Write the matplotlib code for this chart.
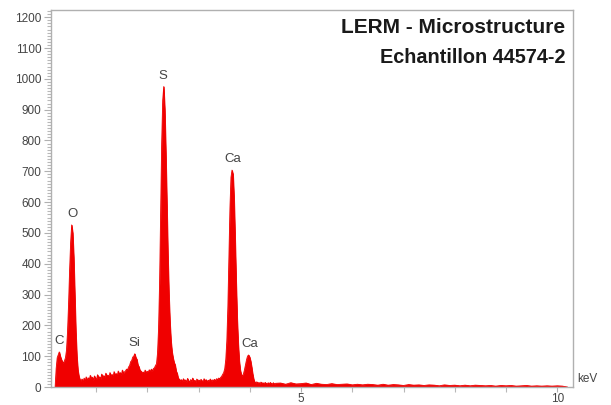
import numpy as np
import matplotlib.pyplot as plt
from matplotlib.ticker import MultipleLocator

plt.rcParams['font.family'] = ['Liberation Sans', 'DejaVu Sans']

# counts, fine channels 0.20-4.50 keV (0.02 keV step)
counts_low = [
    0, 60, 95, 105, 114, 100, 90, 82, 78, 85,
    95, 120, 180, 270, 380, 470, 526, 500, 420, 300,
    180, 100, 55, 35, 24, 20, 26, 16, 29, 19,
    33, 21, 30, 24, 38, 27, 32, 22, 36, 28,
    25, 40, 29, 33, 26, 42, 31, 37, 30, 45,
    34, 39, 31, 47, 36, 41, 33, 50, 38, 44,
    36, 52, 40, 47, 39, 55, 43, 49, 52, 58,
    56, 65, 70, 82, 86, 97, 100, 108, 96, 90,
    72, 66, 54, 52, 45, 49, 43, 55, 46, 51,
    48, 56, 50, 58, 52, 60, 62, 70, 75, 110,
    190, 340, 560, 790, 930, 975, 900, 760, 600, 430,
    300, 210, 150, 115, 95, 80, 72, 52, 44, 28,
    26, 20, 24, 17, 27, 19, 23, 16, 28, 20,
    17, 24, 19, 29, 18, 22, 16, 26, 19, 23,
    17, 25, 20, 18, 27, 19, 24, 17, 22, 20,
    26, 18, 23, 21, 25, 20, 27, 24, 29, 27,
    31, 35, 41, 47, 60, 90, 150, 260, 420, 580,
    680, 704, 690, 610, 480, 340, 220, 140, 85, 55,
    40, 36, 42, 55, 72, 88, 100, 104, 98, 85,
    65, 42, 25, 16, 13, 17, 11, 15, 10, 16,
    12, 14, 9, 15, 12, 10, 14, 9, 15, 11,
    10, 14, 9, 12,
]
# coarse channels 4.6-10.2 keV (0.1 keV step)
counts_high = [
    13, 9, 14, 10, 11, 13, 8, 12, 9, 8,
    11, 8, 9, 10, 7, 9, 7, 9, 8, 6,
    9, 6, 8, 7, 5, 8, 6, 7, 5, 7,
    6, 4, 7, 5, 6, 4, 6, 4, 6, 5,
    4, 5, 3, 5, 4, 5, 3, 4, 5, 3,
    4, 3, 4, 3, 4, 3, 0,
]

peak_names = ['C', 'O', 'Si', 'S', 'Ca', 'Ca']
peak_kev = [0.28, 0.53, 1.75, 2.30, 3.66, 3.99]
peak_counts = [114, 526, 108, 975, 704, 104]

energy = np.concatenate([
    np.linspace(0.20, 4.50, len(counts_low)),
    np.linspace(4.60, 10.20, len(counts_high)),
])
counts = np.array(counts_low + counts_high)

fig = plt.figure(figsize=(6.11, 4.05), dpi=100)
ax = fig.add_axes([0.0835, 0.0444, 0.8545, 0.9306])

red = '#f00000'
ax.fill_between(energy, counts, 0, color=red, linewidth=0.6)
ax.plot(energy, counts, color=red, linewidth=0.6)

for name, e, c in zip(peak_names, peak_kev, peak_counts):
    ax.text(e, c + 16, name, ha='center', va='bottom', fontsize=9.5, color='#444444')

ax.set_xlim(0.12, 10.31)
ax.set_ylim(0, 1223)

ax.xaxis.set_major_locator(MultipleLocator(5))
ax.xaxis.set_minor_locator(MultipleLocator(1))
ax.yaxis.set_major_locator(MultipleLocator(100))
ax.yaxis.set_minor_locator(MultipleLocator(10))

for s in ax.spines.values():
    s.set_color('#b0b0b0')
    s.set_linewidth(1.0)

ax.tick_params(axis='both', which='major', colors='#b0b0b0', labelcolor='#444444',
               labelsize=8.5, length=5, width=0.8, pad=2)
ax.tick_params(axis='both', which='minor', colors='#b8b8b8', length=3, width=0.8)
ax.tick_params(axis='x', which='major', length=3.5, pad=0.5)
ax.tick_params(axis='x', which='minor', length=3.5)

ax.text(1.008, 0.005, 'keV', transform=ax.transAxes, ha='left', va='bottom',
        fontsize=8.5, color='#444444')

ax.text(0.985, 0.98, 'LERM - Microstructure', transform=ax.transAxes,
        ha='right', va='top', fontsize=15, fontweight='bold', color='#1a1a1a')
ax.text(0.985, 0.9, 'Echantillon 44574-2', transform=ax.transAxes,
        ha='right', va='top', fontsize=14.3, fontweight='bold', color='#1a1a1a')

fig.savefig('out.png', dpi=100)
